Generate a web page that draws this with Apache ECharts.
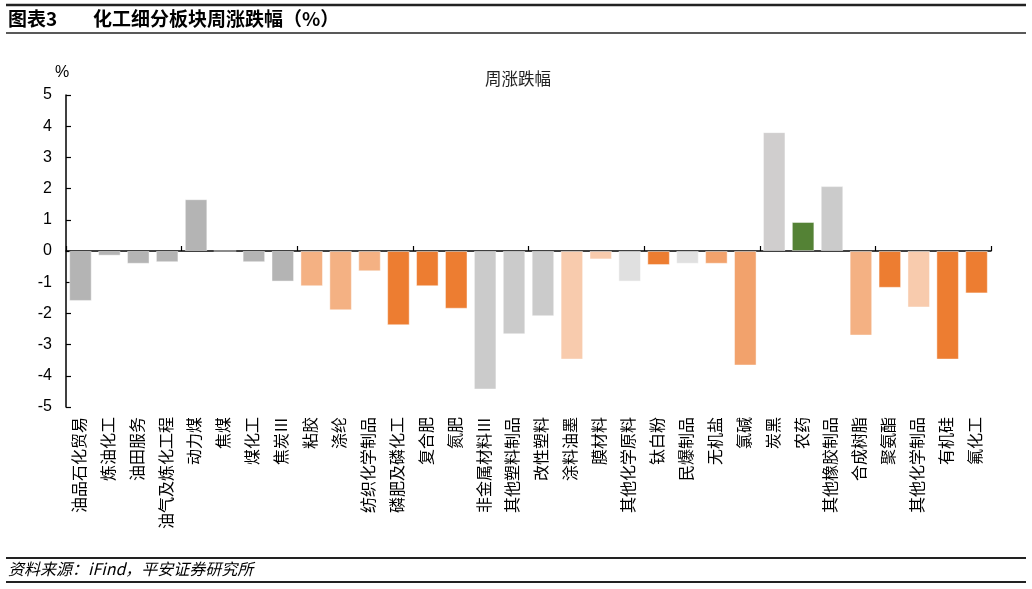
<!DOCTYPE html>
<html>
<head>
<meta charset="utf-8">
<script src="https://cdn.jsdelivr.net/npm/echarts@6/dist/echarts.min.js"></script>
<style>
html,body{margin:0;padding:0;background:#fff;}
#c{width:1032px;height:589px;}
</style>
</head>
<body>
<div id="c"></div>
<script>
const categories = ['油品石化贸易','炼油化工','油田服务','油气及炼化工程','动力煤','焦煤','煤化工','焦炭Ⅲ','粘胶','涤纶','纺织化学制品','磷肥及磷化工','复合肥','氮肥','非金属材料Ⅲ','其他塑料制品','改性塑料','涂料油墨','膜材料','其他化学原料','钛白粉','民爆制品','无机盐','氯碱','炭黑','农药','其他橡胶制品','合成树脂','聚氨酯','其他化学制品','有机硅','氟化工'];
const weeklyChange = [-1.60,-0.15,-0.41,-0.36,1.66,0,-0.36,-0.98,-1.13,-1.90,-0.65,-2.38,-1.13,-1.85,-4.44,-2.67,-2.09,-3.48,-0.27,-0.98,-0.45,-0.41,-0.41,-3.67,3.81,0.93,2.08,-2.71,-1.18,-1.81,-3.48,-1.36];
const yTicks = [-5,-4,-3,-2,-1,0,1,2,3,4,5];

const barColors = ['#b4b4b4','#b4b4b4','#b4b4b4','#b4b4b4','#b4b4b4','#b4b4b4','#b4b4b4','#b4b4b4',
  '#f4b183','#f4b183','#f4b183','#ed7d31','#ed7d31','#ed7d31','#cbcbcb','#cbcbcb','#cbcbcb',
  '#f8cbad','#f8cbad','#e0e0e0','#ed7d31','#e0e0e0','#f2a26c','#f2a26c','#d0cece','#548235','#cbcbcb',
  '#f4b183','#ed7d31','#f8cbad','#ed7d31','#ed7d31'];

const FONT = '"Liberation Sans", "Noto Sans CJK SC", sans-serif';
const chart = echarts.init(document.getElementById('c'), null, {renderer:'canvas'});
chart.setOption({
  animation:false,
  textStyle:{fontFamily:FONT},
  grid:{left:66,right:41,top:95,bottom:182,containLabel:false},
  title:{text:'周涨跌幅',left:513,top:67,textAlign:'center',
    textStyle:{fontSize:16.5,fontWeight:'normal',color:'#222',fontFamily:FONT}},
  xAxis:[
    {type:'category',data:categories,
     axisLine:{onZero:true,lineStyle:{color:'#000',width:1.5}},
     axisTick:{show:true,inside:true,length:5,lineStyle:{color:'#000',width:1.2}},
     axisLabel:{show:false},splitLine:{show:false}},
    {type:'category',data:categories,position:'bottom',
     axisLine:{show:false,onZero:false},axisTick:{show:false},
     axisLabel:{show:true,rotate:90,margin:10,fontSize:16,color:'#000',interval:0,fontFamily:FONT},
     splitLine:{show:false}}
  ],
  yAxis:{type:'value',min:yTicks[0],max:yTicks[yTicks.length-1],interval:1,
    axisLine:{show:true,lineStyle:{color:'#000',width:1.5}},
    axisTick:{show:true,inside:true,length:5,lineStyle:{color:'#000',width:1.2}},
    axisLabel:{margin:14,fontSize:16,color:'#000',fontFamily:FONT},
    splitLine:{show:false}},
  graphic:[
    {type:'line',shape:{x1:6,y1:5,x2:1026,y2:5},style:{stroke:'#222',lineWidth:2.5}},
    {type:'line',shape:{x1:6,y1:33,x2:1026,y2:33},style:{stroke:'#222',lineWidth:1.5}},
    {type:'text',left:8,top:9,style:{text:'图表3',font:'bold 19px "Noto Sans CJK SC", sans-serif',fill:'#000'}},
    {type:'text',left:93,top:9,style:{text:'化工细分板块周涨跌幅（%）',font:'bold 19px "Noto Sans CJK SC", sans-serif',fill:'#000'}},
    {type:'text',left:55,top:65,style:{text:'%',font:'16px "Liberation Sans", sans-serif',fill:'#000'}},
    {type:'line',shape:{x1:6,y1:558,x2:1026,y2:558},style:{stroke:'#222',lineWidth:2}},
    {type:'line',shape:{x1:6,y1:582,x2:1026,y2:582},style:{stroke:'#222',lineWidth:2}},
    {type:'text',left:8,top:561,style:{text:'资料来源：iFind，平安证券研究所',font:'italic 16px "Noto Sans CJK SC", sans-serif',fill:'#000'}}
  ],
  series:[{
    type:'bar',xAxisIndex:0,barCategoryGap:'22%',
    data:weeklyChange.map((v,i)=>({value:v,itemStyle:{color:barColors[i]}})),
    itemStyle:{borderColor:'rgba(255,255,255,0.45)',borderWidth:1}
  }]
});
</script>
</body>
</html>
